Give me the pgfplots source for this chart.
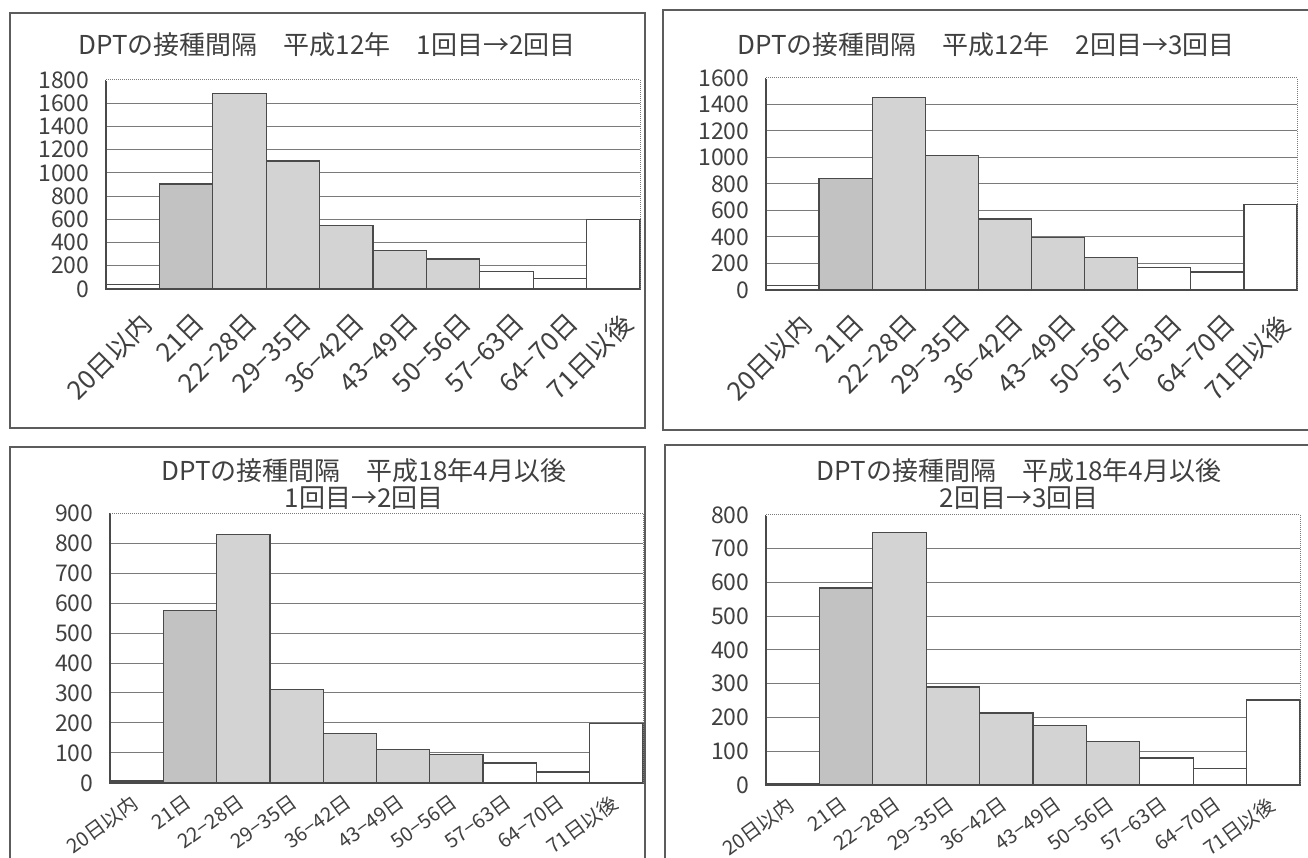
\documentclass[border=0pt]{standalone}
\usepackage{fontspec}
\setmainfont{Noto Sans CJK JP}
\usepackage{pgfplots}
\pgfplotsset{compat=1.18}

\definecolor{ink}{HTML}{404040}
\definecolor{barline}{HTML}{4A4A4A}
\definecolor{shadeA}{HTML}{C2C2C2}
\definecolor{shadeB}{HTML}{D3D3D3}
\definecolor{gridc}{HTML}{7A7A7A}
\definecolor{framec}{HTML}{5C5C5C}

\pgfplotsset{
  dpt/.style={
    scale only axis, anchor=south west,
    xmin=-0.5, xmax=9.5, ymin=0,
    axis x line*=bottom, axis y line*=left,
    axis line style={barline, line width=1.2pt, -},
    ymajorgrids, major grid style={gridc, line width=1pt},
    xtick={0,...,9},
    xticklabels={20日以内,21日,22−28日,29−35日,36−42日,43−49日,50−56日,57−63日,64−70日,71日以後},
    y tick label style={font=\fontsize{23}{23}\selectfont, text=ink, xshift=-13pt},
    /pgf/number format/assume math mode=true,
    /pgf/number format/1000 sep={},
    major tick length=0pt,
    clip=false,
  },
  % category labels of the upper charts
  dpthigh/.style={
    x tick label style={rotate=45, anchor=north east, font=\fontsize{26}{26}\selectfont, text=ink, inner sep=1pt, xshift=-10pt, yshift=-18pt},
  },
  % category labels of the lower charts, which have less room below
  dptlow/.style={
    x tick label style={rotate=36, anchor=north east, font=\fontsize{20}{20}\selectfont, text=ink, inner sep=1pt, xshift=-10pt, yshift=-3pt},
  },
  dptbar/.style={ybar, bar width=1, bar shift=0pt, draw=barline, line width=1.3pt},
}

% dotted top and right border of the plot area
\newcommand{\plotborder}{%
  \draw[white, line width=2.5pt] (rel axis cs:0,1) -- (rel axis cs:1,1);
  \draw[gridc, densely dotted, line width=1pt] (rel axis cs:0,1) -- (rel axis cs:1,1) -- (rel axis cs:1,0);
}

\begin{document}
\begin{tikzpicture}[x=1pt,y=1pt]
\clip (0,0) rectangle (1308,858);
\path[use as bounding box] (0,0) rectangle (1308,858);

% panel frames
\draw[framec, line width=1.3pt] (10,430) rectangle (645,845);
\draw[framec, line width=1.3pt] (663,428) rectangle (1330,848);
\draw[framec, line width=1.3pt] (10,-20) rectangle (645,411);
\draw[framec, line width=1.3pt] (665,-20) rectangle (1330,413);

% titles
\node[font=\fontsize{26}{27}\selectfont, text=ink] at (327,813) {DPTの接種間隔　平成12年　1回目→2回目};
\node[font=\fontsize{26}{27}\selectfont, text=ink] at (986,813) {DPTの接種間隔　平成12年　2回目→3回目};
\node[font=\fontsize{26}{27}\selectfont, text=ink, align=center] at (364,374) {DPTの接種間隔　平成18年4月以後\\1回目→2回目};
\node[font=\fontsize{26}{27}\selectfont, text=ink, align=center] at (1019,374) {DPTの接種間隔　平成18年4月以後\\2回目→3回目};

% 平成12年 1回目→2回目
\begin{axis}[dpt, dpthigh, at={(106pt,569pt)}, width=534pt, height=209pt, ymax=1800, ytick={0,200,...,1800}]
\addplot[dptbar, fill=white]  coordinates {(0,40) (7,151) (8,91) (9,600)};
\addplot[dptbar, fill=shadeA] coordinates {(1,904)};
\addplot[dptbar, fill=shadeB] coordinates {(2,1683) (3,1103) (4,546) (5,330) (6,259)};
\plotborder
\end{axis}

% 平成12年 2回目→3回目
\begin{axis}[dpt, dpthigh, at={(766pt,568pt)}, width=531pt, height=212pt, ymax=1600, ytick={0,200,...,1600}]
\addplot[dptbar, fill=white]  coordinates {(0,35) (7,168) (8,135) (9,643)};
\addplot[dptbar, fill=shadeA] coordinates {(1,843)};
\addplot[dptbar, fill=shadeB] coordinates {(2,1455) (3,1013) (4,535) (5,395) (6,243)};
\plotborder
\end{axis}

% 平成18年4月以後 1回目→2回目
\begin{axis}[dpt, dptlow, at={(110pt,75pt)}, width=533pt, height=270pt, ymax=900, ytick={0,100,...,900}]
\addplot[dptbar, fill=white]  coordinates {(0,7) (7,67) (8,37) (9,199)};
\addplot[dptbar, fill=shadeA] coordinates {(1,576)};
\addplot[dptbar, fill=shadeB] coordinates {(2,828) (3,311) (4,164) (5,112) (6,95)};
\plotborder
\end{axis}

% 平成18年4月以後 2回目→3回目
\begin{axis}[dpt, dptlow, at={(766pt,73pt)}, width=534pt, height=270pt, ymax=800, ytick={0,100,...,800}]
\addplot[dptbar, fill=white]  coordinates {(0,3) (7,80) (8,48) (9,252)};
\addplot[dptbar, fill=shadeA] coordinates {(1,584)};
\addplot[dptbar, fill=shadeB] coordinates {(2,749) (3,290) (4,213) (5,177) (6,128)};
\plotborder
\end{axis}
\end{tikzpicture}
\end{document}
